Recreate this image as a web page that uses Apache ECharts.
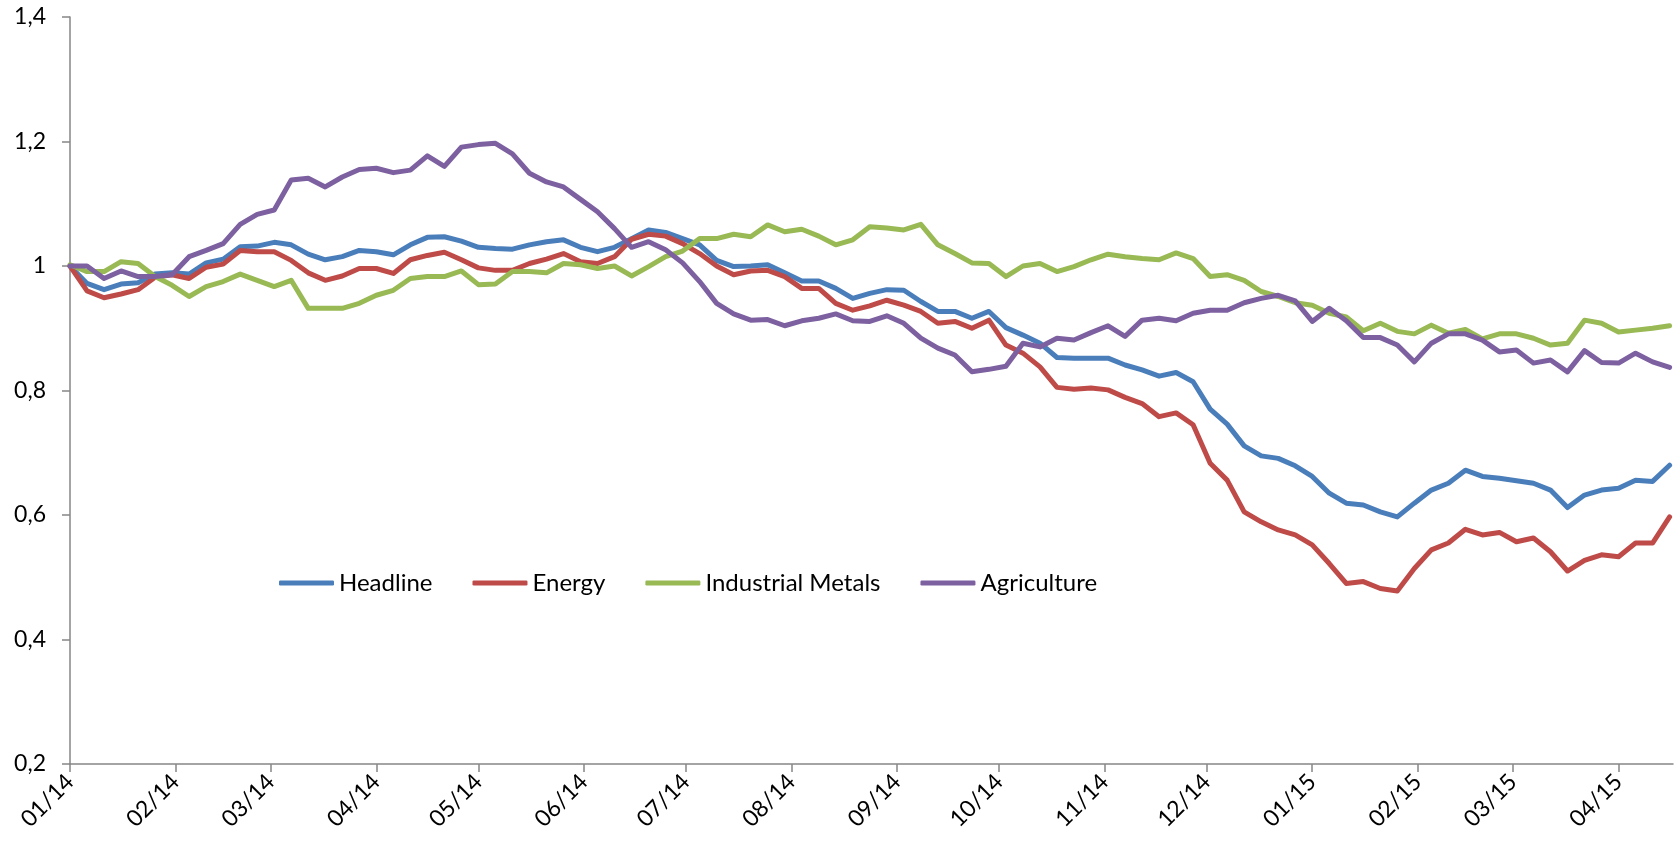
<!DOCTYPE html>
<html><head><meta charset="utf-8">
<script src="https://cdn.jsdelivr.net/npm/echarts@6/dist/echarts.min.js"></script>
<style>html,body{margin:0;padding:0;background:#fff}#c{width:1675px;height:848px}</style>
</head><body><div id="c"></div>
<script>
// Daily calendar axis from first to last date; values sampled every 5 days
const axisStart = [2014, 0, 1];
const axisEnd = [2015, 3, 17];
const sampleStepDays = 5;
const seriesNames = ['Headline', 'Energy', 'Industrial Metals', 'Agriculture'];
const seriesColors = ['#4A7EBB', '#BE4B48', '#98B954', '#7D60A0'];
const yMin = 0.2, yMax = 1.4, yInterval = 0.2;

const headline = [
1.000,0.972,0.962,0.971,0.973,0.987,0.989,0.987,1.005,1.011,
1.031,1.032,1.038,1.034,1.019,1.010,1.015,1.025,1.023,1.018,
1.034,1.046,1.047,1.040,1.030,1.028,1.027,1.034,1.039,1.042,
1.030,1.023,1.030,1.044,1.058,1.054,1.044,1.034,1.009,0.999,
1.000,1.002,0.989,0.976,0.976,0.964,0.948,0.956,0.962,0.961,
0.943,0.927,0.927,0.916,0.927,0.901,0.889,0.876,0.853,0.852,
0.852,0.852,0.841,0.833,0.823,0.829,0.814,0.770,0.746,0.711,
0.695,0.691,0.679,0.662,0.635,0.619,0.616,0.605,0.597,0.619,
0.640,0.651,0.672,0.662,0.659,0.655,0.651,0.640,0.612,0.632,
0.640,0.643,0.656,0.654,0.680];
const energy = [
1.000,0.960,0.949,0.955,0.962,0.982,0.986,0.980,0.998,1.003,
1.025,1.023,1.023,1.009,0.989,0.977,0.984,0.996,0.996,0.988,
1.010,1.017,1.022,1.010,0.997,0.993,0.993,1.004,1.011,1.020,
1.007,1.004,1.015,1.043,1.051,1.048,1.036,1.020,1.000,0.986,
0.992,0.993,0.983,0.964,0.964,0.940,0.929,0.936,0.945,0.937,
0.927,0.908,0.911,0.900,0.913,0.873,0.860,0.838,0.805,0.802,
0.804,0.801,0.789,0.779,0.758,0.764,0.745,0.683,0.656,0.605,
0.589,0.576,0.568,0.552,0.522,0.490,0.493,0.482,0.478,0.514,
0.544,0.555,0.577,0.568,0.572,0.557,0.563,0.541,0.510,0.527,
0.536,0.533,0.555,0.555,0.597];
const industrialMetals = [
1.002,0.991,0.991,1.007,1.004,0.983,0.969,0.951,0.967,0.975,
0.987,0.977,0.967,0.977,0.932,0.932,0.932,0.940,0.953,0.961,
0.980,0.983,0.983,0.992,0.970,0.971,0.991,0.991,0.989,1.004,
1.002,0.996,1.000,0.984,0.999,1.015,1.024,1.044,1.044,1.051,
1.047,1.066,1.055,1.059,1.048,1.034,1.042,1.063,1.061,1.058,
1.067,1.034,1.020,1.005,1.004,0.983,1.000,1.004,0.991,0.999,
1.010,1.019,1.015,1.012,1.010,1.021,1.012,0.983,0.986,0.977,
0.959,0.951,0.941,0.937,0.924,0.918,0.896,0.908,0.895,0.891,
0.905,0.892,0.898,0.883,0.891,0.891,0.884,0.873,0.876,0.913,
0.908,0.894,0.897,0.900,0.904];
const agriculture = [
1.000,1.000,0.980,0.992,0.983,0.983,0.986,1.015,1.025,1.036,
1.067,1.083,1.090,1.138,1.141,1.127,1.143,1.155,1.157,1.150,
1.154,1.177,1.160,1.191,1.195,1.197,1.180,1.149,1.135,1.127,
1.107,1.087,1.060,1.030,1.039,1.026,1.005,0.975,0.940,0.923,
0.913,0.914,0.904,0.912,0.916,0.923,0.912,0.911,0.920,0.908,
0.884,0.868,0.857,0.830,0.834,0.839,0.876,0.870,0.884,0.881,
0.893,0.904,0.887,0.913,0.916,0.912,0.924,0.929,0.929,0.941,
0.948,0.953,0.944,0.911,0.932,0.912,0.885,0.885,0.873,0.846,
0.876,0.891,0.891,0.881,0.862,0.865,0.844,0.849,0.830,0.864,
0.845,0.844,0.860,0.846,0.837];

function iso(t) {
  const d = new Date(t);
  const m = d.getUTCMonth() + 1, day = d.getUTCDate();
  return d.getUTCFullYear() + '-' + (m < 10 ? '0' : '') + m + '-' + (day < 10 ? '0' : '') + day;
}
const categories = [];
for (let t = Date.UTC(...axisStart); t <= Date.UTC(...axisEnd); t += 86400000) categories.push(iso(t));
const sampleDates = headline.map((_, i) => categories[i * sampleStepDays]);

const allValues = [headline, energy, industrialMetals, agriculture];
const isMonthStart = (index, value) => value.slice(8, 10) === '01';
const axisColor = '#868686';
const fontFamily = 'Lato, "Open Sans", sans-serif';

const chart = echarts.init(document.getElementById('c'), null, { renderer: 'canvas' });
chart.setOption({
  animation: false,
  backgroundColor: '#fff',
  grid: { left: 70, right: 2, top: 17, bottom: 84, containLabel: false },
  legend: {
    data: seriesNames.map(name => ({ name, icon: 'roundRect' })),
    left: 279, top: 571,
    padding: 0,
    itemWidth: 55, itemHeight: 5, itemGap: 40,
    textStyle: { fontFamily, fontSize: 24, color: '#000', lineHeight: 24, height: 24 }
  },
  xAxis: {
    type: 'category',
    data: categories,
    boundaryGap: false,
    axisLine: { lineStyle: { color: axisColor, width: 1.5 } },
    axisTick: { show: true, interval: isMonthStart, length: 8, lineStyle: { color: axisColor, width: 1.5 } },
    axisLabel: {
      interval: isMonthStart, rotate: 45, margin: 14,
      fontFamily, fontSize: 23, color: '#000',
      formatter: v => v.slice(5, 7) + '/' + v.slice(2, 4)
    },
    splitLine: { show: false }
  },
  yAxis: {
    type: 'value',
    min: yMin, max: yMax, interval: yInterval,
    axisLine: { show: true, lineStyle: { color: axisColor, width: 1.5 } },
    axisTick: { show: true, length: 8, lineStyle: { color: axisColor, width: 1.5 } },
    axisLabel: {
      margin: 24, fontFamily, fontSize: 23, color: '#000',
      formatter: v => String(Math.round(v * 10) / 10).replace('.', ',')
    },
    splitLine: { show: false }
  },
  series: seriesNames.map((name, i) => ({
    name, type: 'line', symbol: 'none', showSymbol: false,
    color: seriesColors[i],
    itemStyle: { color: seriesColors[i] },
    lineStyle: { width: 5, color: seriesColors[i], join: 'round', cap: 'round' },
    data: sampleDates.map((d, k) => [d, allValues[i][k]])
  }))
});
</script></body></html>
